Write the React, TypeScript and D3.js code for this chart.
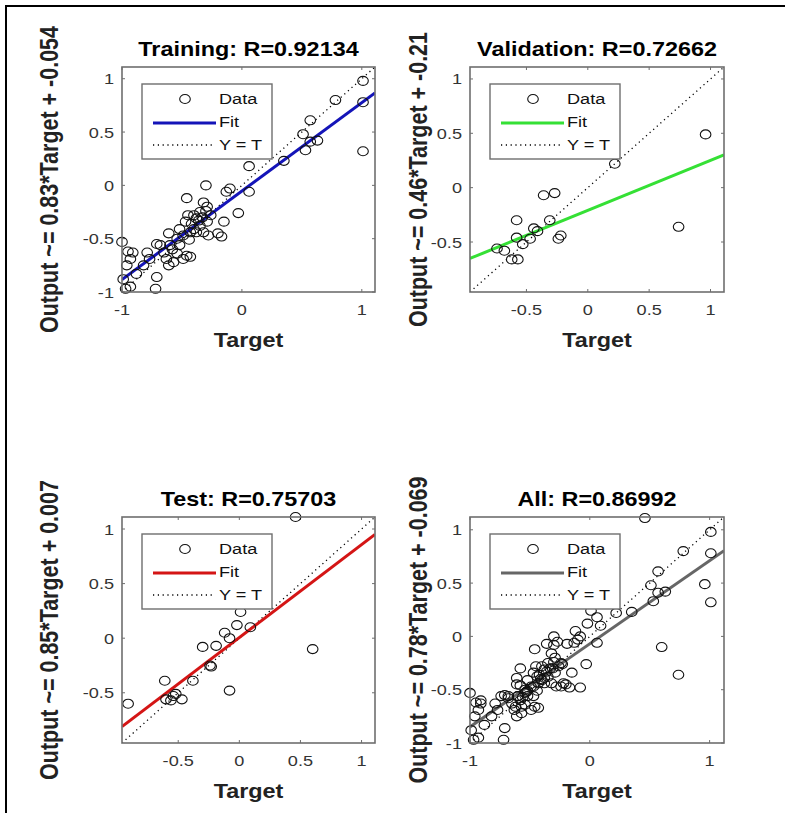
import React from "react";
import * as d3 from "d3";

// --- data ---
const trainTarget = [1.01, 0.78, 1.01, 1.01, 0.57, 0.51, 0.63, 0.57, 0.53, 0.35, 0.06, 0.06, -0.1, -0.13, -0.3, -0.46, -0.03, -0.15, -0.17, -0.2, -0.29, -0.32, -0.35, -0.4, -0.45, -0.47, -0.38, -0.29, -0.26, -0.35, -0.4, -0.43, -0.28, -0.49, -0.54, -0.61, -0.6, -0.52, -0.68, -0.71, -0.46, -0.43, -0.54, -0.63, -0.65, -0.61, -0.79, -0.82, -0.91, -0.93, -1.0, -0.96, -0.88, -0.99, -0.93, -0.71, -0.72, -0.77, -0.57, -0.49, -0.38, -0.32, -0.52, -0.33, -0.3, -0.42, -0.36, -0.44, -0.58, -0.95, -0.97];
const trainOutput = [0.98, 0.8, 0.78, 0.32, 0.61, 0.48, 0.42, 0.41, 0.33, 0.23, 0.18, -0.06, -0.03, -0.06, 0.0, -0.12, -0.26, -0.34, -0.48, -0.45, -0.2, -0.16, -0.25, -0.28, -0.28, -0.34, -0.31, -0.34, -0.28, -0.38, -0.41, -0.44, -0.47, -0.47, -0.5, -0.45, -0.56, -0.56, -0.56, -0.55, -0.66, -0.67, -0.64, -0.69, -0.63, -0.75, -0.63, -0.75, -0.63, -0.69, -0.53, -0.75, -0.83, -0.88, -0.95, -0.86, -0.97, -0.69, -0.72, -0.69, -0.44, -0.44, -0.41, -0.3, -0.24, -0.36, -0.33, -0.51, -0.6, -0.62, -0.97];

const valTarget = [0.96, 0.22, 0.74, -0.36, -0.27, -0.31, -0.58, -0.58, -0.44, -0.41, -0.47, -0.53, -0.24, -0.22, -0.74, -0.68, -0.62, -0.57];
const valOutput = [0.49, 0.22, -0.36, -0.07, -0.05, -0.3, -0.3, -0.46, -0.375, -0.4, -0.47, -0.52, -0.47, -0.44, -0.56, -0.58, -0.66, -0.66];

const testTarget = [0.01, -0.02, 0.09, -0.12, -0.08, -0.19, -0.3, -0.24, -0.23, 0.6, -0.61, -0.38, -0.08, -0.54, -0.52, -0.6, -0.56, -0.47, -0.91, 0.46];
const testOutput = [0.24, 0.12, 0.1, 0.05, 0.0, -0.07, -0.08, -0.25, -0.26, -0.1, -0.39, -0.39, -0.48, -0.53, -0.51, -0.56, -0.57, -0.56, -0.6, 1.11];

const allTarget = [...trainTarget, ...valTarget, ...testTarget];
const allOutput = [...trainOutput, ...valOutput, ...testOutput];

const titles = ["Training: R=0.92134", "Validation: R=0.72662", "Test: R=0.75703", "All: R=0.86992"];
const yLabels = [
  "Output ~= 0.83*Target + -0.054",
  "Output ~= 0.46*Target + -0.21",
  "Output ~= 0.85*Target + 0.007",
  "Output ~= 0.78*Target + -0.069",
];
const slopes = [0.83, 0.46, 0.85, 0.78];
const intercepts = [-0.054, -0.21, 0.007, -0.069];
const limits = [[-1.0, 1.11], [-0.96, 1.11], [-0.96, 1.11], [-1.0, 1.12]];
const xTickVals = [[-1, 0, 1], [-0.5, 0, 0.5, 1], [-0.5, 0, 0.5, 1], [-1, 0, 1]];
const yTickVals = [[-1, -0.5, 0, 0.5, 1], [-0.5, 0, 0.5, 1], [-0.5, 0, 0.5, 1], [-1, -0.5, 0, 0.5, 1]];
const fitColors = ["#1414b8", "#35e035", "#d41515", "#666666"];
const legendLabels = ["Data", "Fit", "Y = T"];

const targets = [trainTarget, valTarget, testTarget, allTarget];
const outputs = [trainOutput, valOutput, testOutput, allOutput];

// layout
const SX = 1.17; // the reference is stretched horizontally
const FONT = "'Liberation Sans', Arial, Helvetica, sans-serif";
const AXIS = "#6e6e6e";
const boxes = [
  { x0: 122, x1: 375, y0: 67, y1: 292, labelX: 58 },
  { x0: 470, x1: 724, y0: 67, y1: 292, labelX: 427 },
  { x0: 122, x1: 375, y0: 517, y1: 743, labelX: 58 },
  { x0: 470, x1: 724, y0: 517, y1: 743, labelX: 427 },
];

const Panel = ({ i }: { i: number }) => {
  const b = boxes[i];
  const lim = limits[i];
  const x = d3.scaleLinear().domain(lim).range([b.x0, b.x1]);
  const y = d3.scaleLinear().domain(lim).range([b.y1, b.y0]);
  const fit = d3.line<number>().x((t) => x(t)).y((t) => y(slopes[i] * t + intercepts[i]));
  const ident = d3.line<number>().x((t) => x(t)).y((t) => y(t));
  const cx = (b.x0 + b.x1) / 2;
  const cy = (b.y0 + b.y1) / 2;
  const clipId = "clip" + i;
  const lg = { x: b.x0 + 20, y: b.y0 + 17, w: 130, h: 75 };

  return (
    <g>
      <defs>
        <clipPath id={clipId}>
          <rect x={b.x0} y={b.y0} width={b.x1 - b.x0} height={b.y1 - b.y0} />
        </clipPath>
      </defs>
      <rect x={b.x0} y={b.y0} width={b.x1 - b.x0} height={b.y1 - b.y0} fill="#fff" />
      {/* ticks inside box on all sides */}
      {xTickVals[i].map((v) => (
        <g key={"xt" + v} stroke={AXIS} strokeWidth={1}>
          <line x1={x(v)} x2={x(v)} y1={b.y1} y2={b.y1 - 3} />
          <line x1={x(v)} x2={x(v)} y1={b.y0} y2={b.y0 + 3} />
        </g>
      ))}
      {yTickVals[i].map((v) => (
        <g key={"yt" + v} stroke={AXIS} strokeWidth={1}>
          <line x1={b.x0} x2={b.x0 + 3} y1={y(v)} y2={y(v)} />
          <line x1={b.x1} x2={b.x1 - 3} y1={y(v)} y2={y(v)} />
        </g>
      ))}
      <g clipPath={`url(#${clipId})`}>
        <path d={ident(lim) || ""} stroke="#000" strokeWidth={1.3} strokeDasharray="1.2 3.6" fill="none" />
        <path d={fit(lim) || ""} stroke={fitColors[i]} strokeWidth={3} fill="none" />
      </g>
      {targets[i].map((t, k) => (
        <ellipse key={k} cx={x(t)} cy={y(outputs[i][k])} rx={5.3} ry={4.5} fill="none" stroke="#111" strokeWidth={1.1} />
      ))}
      <rect x={b.x0} y={b.y0} width={b.x1 - b.x0} height={b.y1 - b.y0} fill="none" stroke={AXIS} strokeWidth={1.6} />

      {/* legend */}
      <rect x={lg.x} y={lg.y} width={lg.w} height={lg.h} fill="#fff" stroke={AXIS} strokeWidth={1.4} />
      <ellipse cx={lg.x + 43} cy={lg.y + 15} rx={5.3} ry={4.5} fill="none" stroke="#111" strokeWidth={1.1} />
      <line x1={lg.x + 11} x2={lg.x + 74} y1={lg.y + 39} y2={lg.y + 39} stroke={fitColors[i]} strokeWidth={3} />
      <line x1={lg.x + 11} x2={lg.x + 72} y1={lg.y + 61} y2={lg.y + 61} stroke="#000" strokeWidth={1.3} strokeDasharray="1.2 3.6" />
      {legendLabels.map((s, k) => (
        <text key={s} transform={`translate(${lg.x + 77},${lg.y + 20 + k * 23}) scale(${SX},1)`} fontSize={15.5} fill="#111">
          {s}
        </text>
      ))}

      {/* tick labels */}
      {xTickVals[i].map((v) => (
        <text key={"xl" + v} transform={`translate(${x(v)},${b.y1 + 23}) scale(${SX},1)`} textAnchor="middle" fontSize={15.5} fill="#333">
          {String(v)}
        </text>
      ))}
      {yTickVals[i].map((v) => (
        <text key={"yl" + v} transform={`translate(${b.x0 - 8},${y(v) + 5.5}) scale(${SX},1)`} textAnchor="end" fontSize={15.5} fill="#333">
          {String(v)}
        </text>
      ))}

      {/* labels and title */}
      <text transform={`translate(${cx},${b.y0 - 11}) scale(${SX},1)`} textAnchor="middle" fontSize={20} fontWeight="bold" fill="#000">
        {titles[i]}
      </text>
      <text transform={`translate(${cx},${b.y1 + 55}) scale(${SX},1)`} textAnchor="middle" fontSize={20} fontWeight="bold" fill="#222">
        Target
      </text>
      <text transform={`translate(${b.labelX},${cy}) scale(${SX},1) rotate(-90)`} textAnchor="middle" fontSize={21.5} fontWeight="bold" fill="#222">
        {yLabels[i]}
      </text>
    </g>
  );
};

export default function App() {
  return (
    <div style={{ position: "absolute", left: 0, top: 0 }}>
      <svg width={785} height={813} style={{ display: "block", background: "#fff" }} fontFamily={FONT}>
        <rect width={785} height={813} fill="#fff" />
        <path d="M6,813 L6,6 L785,6" fill="none" stroke="#000" strokeWidth={2} />
        {boxes.map((_, i) => (
          <Panel key={i} i={i} />
        ))}
      </svg>
    </div>
  );
}
